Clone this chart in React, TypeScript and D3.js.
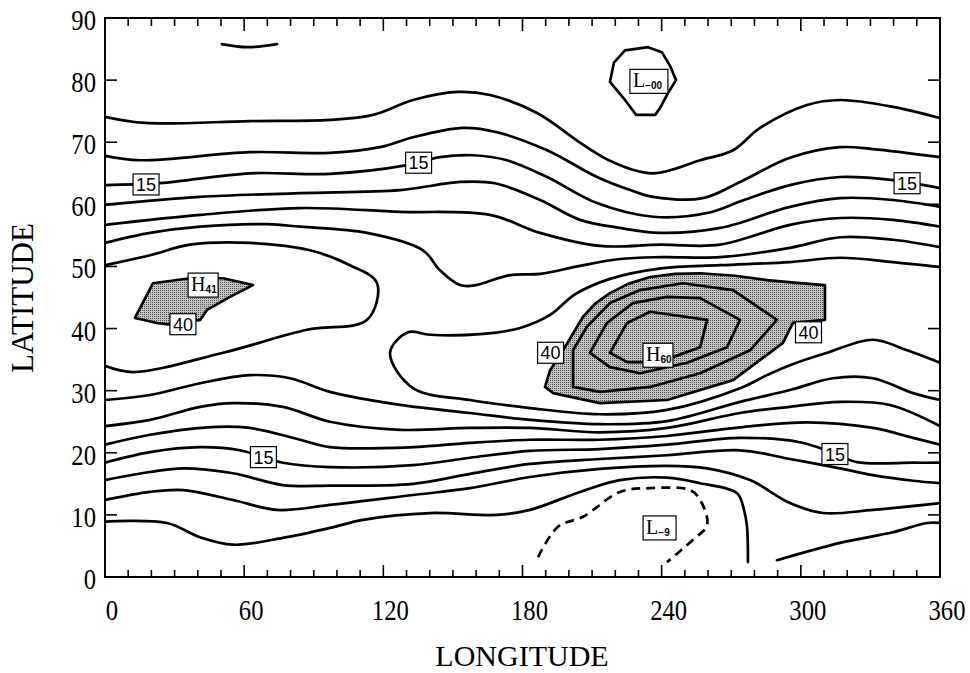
import React from 'react';
import * as d3 from 'd3';

type P = [number, number];

const lonTicks = [0, 60, 120, 180, 240, 300, 360];
const latTicks = [0, 10, 20, 30, 40, 50, 60, 70, 80, 90];
const lonMinor = d3.range(10, 360, 10);

// ---- contour lines (lon, lat) ----
const arcTop: P[] = [[50.4, 85.8], [61.2, 85.3], [74.2, 85.8]];
const c1: P[] = [[0, 74.1], [17.2, 73.1], [62.5, 73.4], [97, 73.6], [115.6, 74.4], [132.8, 76.8], [151.8, 78.1], [166, 77.6], [186.3, 74.7], [206.1, 69.6], [219, 66.8], [236.3, 65], [256.6, 67.1], [270.8, 68.7], [282.4, 72.3], [302.7, 76], [316.9, 76.8], [339.7, 75.7], [360, 73.9]];
const c2: P[] = [[0, 67.8], [15, 67.1], [62.5, 68.4], [97, 68.3], [118.6, 69.2], [132.8, 70.8], [154.4, 72.3], [169, 71.6], [190.6, 68.7], [212.1, 64.4], [226.4, 62.3], [236.3, 61.2], [257.8, 61.0], [273.8, 63.6], [295.3, 67.5], [316.9, 69.2], [331.1, 68.9], [360, 67.6]];
const c3: P[] = [[0, 63.1], [23.7, 63.4], [62.5, 65.0], [97, 64.9], [130.2, 66.3], [144.4, 67.6], [158.7, 67.9], [173.3, 67.1], [190.6, 64.4], [212.1, 60.2], [236.3, 58.0], [259.6, 58.6], [275.5, 60.7], [295.3, 63.1], [316.9, 64.4], [339.7, 63.9], [360, 62.6]];
const c4: P[] = [[0, 59.9], [41, 61.2], [84.1, 61.8], [127.2, 62.3], [153.1, 63.6], [168.1, 63.4], [187.6, 60.7], [204.8, 57.5], [222, 56.2], [239.3, 55.4], [265.2, 56.2], [295.3, 59.6], [316.9, 61.0], [339.7, 60.7], [360, 59.6]];
const c5: P[] = [[0, 56.7], [41, 58.3], [84.1, 59.4], [127.2, 58.8], [166, 58.3], [187.6, 55.4], [213.4, 53.3], [239.7, 53.5], [265.2, 53.5], [295.3, 56.7], [316.9, 57.8], [339.7, 57.5], [360, 56.4]];
const c6: P[] = [[0, 53.8], [19.4, 55.4], [41, 56.4], [69.8, 56.8], [84.1, 56.4], [113, 55.4], [137.1, 52.6], [144.4, 49.4], [153.1, 47.0], [158.7, 46.9], [174.6, 48.6], [187.6, 48.8], [204.8, 50.1], [222, 51.2], [239.7, 51.5], [265.2, 51.5], [295.3, 53.0], [316.9, 54.7], [339.7, 54.3], [360, 53.1]];
const loopWest: P[] = [[0, 50.2], [19.4, 51.8], [36.6, 53.5], [62.5, 53.8], [88.4, 52.6], [105.6, 50.2], [117.3, 47.3], [113, 41.4], [87.1, 39.8], [50.9, 36.1], [12.1, 33], [0, 34]];
const loopMid: P[] = [[360, 49.9], [339.7, 50.7], [316.9, 51.4], [295.3, 50.7], [265.2, 50.2], [239.7, 49.7], [217.7, 48.0], [202.6, 45.5], [191.9, 42.2], [178.9, 40.1], [161.7, 39.1], [140.1, 39.0], [130.6, 39.4], [122.9, 36.1], [132.8, 30.4], [157.4, 28.5], [183.2, 27.2], [213.4, 26.2], [242.3, 26.9], [273.8, 30.4], [285.4, 32.5], [295.3, 34.1], [311.3, 36.1], [331.1, 38.2], [345.8, 36.5], [360, 34.5]];
const b1: P[] = [[0, 28.5], [19.4, 29.3], [41, 31.2], [62.5, 32.5], [79.8, 32.0], [97, 29.8], [127.2, 27.7], [157.4, 26.4], [183.2, 25.3], [213.4, 24.6], [242.3, 25.1], [273.8, 28.2], [295.3, 30.1], [313.9, 32.0], [331.1, 32.0], [348.4, 29.6], [360, 28.5]];
const b2: P[] = [[0, 24.3], [19.4, 25.3], [41, 27.4], [55.2, 28.0], [76.7, 27.4], [97, 25.0], [127.2, 23.7], [157.4, 24.0], [183.2, 24.0], [213.4, 23.3], [242.3, 24.0], [273.8, 26.4], [295.3, 27.4], [316.9, 28.2], [338.4, 27.7], [360, 24.3]];
const b3: P[] = [[0, 21.3], [19.4, 22.9], [44, 24.1], [62.5, 24.0], [84.1, 22.1], [97, 20.9], [132.8, 20.9], [157.4, 21.6], [183.2, 22.1], [213.4, 22.1], [242.3, 22.7], [273.8, 24.1], [302.7, 24.9], [331.1, 24.0], [348.4, 22.4], [360, 21.3]];
const b4: P[] = [[0, 18.4], [19.4, 20.1], [41, 20.9], [58.2, 20.4], [68.1, 19.3], [76.7, 18.4], [97, 17.7], [132.8, 18.0], [157.4, 19.2], [183.2, 20.3], [213.4, 20.6], [242.3, 21.3], [273.8, 22.4], [299.6, 21.7], [314.7, 19.9], [324.2, 18.5], [348.4, 18.4], [360, 18.4]];
const b5: P[] = [[0, 15.6], [19.4, 16.9], [33.6, 17.5], [55.2, 16.7], [76.7, 14.8], [97, 14.7], [132.8, 15.0], [157.4, 16.6], [183.2, 18.2], [213.4, 19.0], [242.3, 19.6], [273.8, 20.4], [295.3, 19.0], [316.9, 17.5], [331.1, 16.4], [348.4, 15.5], [360, 15.1]];
const b6: P[] = [[0, 12.4], [19.4, 13.7], [33.6, 14.0], [55.2, 12.4], [74.2, 10.8], [97, 11.6], [132.8, 13.2], [157.4, 14.3], [183.2, 16.1], [213.4, 17.4], [242.3, 17.9], [259.6, 17.5], [278.1, 15.6], [295.3, 11.9], [309.6, 10.3], [331.1, 10.8], [360, 11.9]];
const b7: P[] = [[0, 8.9], [26.7, 8.7], [41, 6.4], [55.2, 5.2], [76.7, 6.3], [97, 7.9], [111.2, 9.2], [140.1, 10.3], [169, 10.0], [183.2, 10.8], [204.8, 13.7], [222, 15.6], [242.3, 16.0], [256.6, 15.1], [272.5, 13.5], [275.5, 10.8], [276.8, 8.1], [277.2, 2.4]];
const b7East: P[] = [[289.7, 2.7], [316.9, 5.5], [339.7, 7.2], [354.4, 8.7], [360, 8.7]];
const dashedLow: P[] = [[186.7, 3.2], [195.3, 8.1], [206.1, 9.7], [222, 13.7], [235, 14.3], [252.2, 14.0], [256.6, 12.4], [259.6, 8.4], [253.5, 6.0], [242.3, 2.4]];

// closed contours
const lowPole: P[] = [[224.2, 84.8], [234.1, 85.3], [240.1, 84.5], [243.6, 82.3], [246.2, 80], [242.7, 77.9], [239.3, 75.5], [237.2, 74.4], [229, 74.4], [224.2, 76.8], [217.7, 79.7], [219.4, 82.8]];
const highWest: P[] = [[12.9, 41.7], [20.7, 47.3], [36.6, 48.1], [50.9, 48.1], [63.8, 47.0], [53.9, 45.1], [44, 43], [41, 41.4], [29.3, 40.6], [22.4, 40.9]];
const highEast40: P[] = [[189.7, 30.6], [191.9, 33.3], [197.5, 36.5], [206.1, 41.9], [211.3, 44.0], [217.7, 45.7], [225.5, 47.2], [235, 48.3], [245.8, 48.8], [256.6, 48.9], [271.6, 48.5], [285.4, 47.8], [299.6, 47.3], [310.4, 47.0], [310.4, 41.4], [296.6, 40.9], [292.3, 37.7], [270.8, 31.7], [242.3, 28.5], [213.4, 28.0], [193.2, 29.6]];
const highEast45: P[] = [[201.8, 30.6], [201.8, 36.5], [207.8, 40.3], [217.7, 44.1], [230.7, 46.2], [249.2, 47.3], [270.8, 46.2], [289.7, 41.4], [278.1, 36.5], [256.6, 32.8], [235, 30.6], [213.4, 29.8]];
const highEast50: P[] = [[209.1, 36.1], [216.4, 40.9], [227.6, 44.1], [242.3, 45.1], [256.6, 44.9], [273.8, 41.4], [268.2, 37.0], [250.9, 34.5], [230.7, 32.8], [217.7, 33.8]];
const highEast55: P[] = [[217.7, 36.1], [225.1, 40.9], [235, 42.7], [259.6, 41.4], [256.6, 37.0], [244.9, 35.4], [233.7, 34.6], [225.1, 34.6]];

const openLines: P[][] = [arcTop, c1, c2, c3, c4, c5, c6, loopWest, loopMid, b1, b2, b3, b4, b5, b6, b7, b7East];

// value labels
const numLabels: { t: string; lon: number; lat: number }[] = [
  { t: '15', lon: 17.7, lat: 63.2 },
  { t: '15', lon: 135.2, lat: 66.7 },
  { t: '15', lon: 345.8, lat: 63.4 },
  { t: '15', lon: 68.3, lat: 19.3 },
  { t: '15', lon: 314.7, lat: 19.8 },
  { t: '40', lon: 33.6, lat: 40.7 },
  { t: '40', lon: 192.1, lat: 36.1 },
  { t: '40', lon: 303.3, lat: 39.4 },
];
const extremaLabels: { m: string; s: string; lon: number; lat: number; w: number }[] = [
  { m: 'H', s: '41', lon: 42.3, lat: 47.0, w: 30 },
  { m: 'H', s: '60', lon: 238.4, lat: 35.7, w: 30 },
  { m: 'L', s: '−9', lon: 239.1, lat: 7.9, w: 33 },
  { m: 'L', s: '−00', lon: 234.5, lat: 79.8, w: 38 },
];

const W = 970;
const H = 673;
const L = 105, R = 940, T = 18, B = 577;

export default function App() {
  const x = d3.scaleLinear().domain([0, 360]).range([L, R]);
  const y = d3.scaleLinear().domain([0, 90]).range([B, T]);
  const smooth = d3.line<P>().x(d => x(d[0])).y(d => y(d[1])).curve(d3.curveCatmullRom.alpha(0.5));
  const poly = d3.line<P>().x(d => x(d[0])).y(d => y(d[1])).curve(d3.curveLinearClosed);
  const serif = '"Liberation Serif", "DejaVu Serif", serif';
  const sans = '"Liberation Sans", Arial, sans-serif';
  const lw = 2.7;

  return (
    <svg width={W} height={H} style={{ position: 'absolute', left: 0, top: 0, background: '#fff' }}>
      <defs>
        <pattern id="stip" width="2" height="2" patternUnits="userSpaceOnUse">
          <rect width="2" height="2" fill="#c4c4c4" />
          <rect width="1" height="1" fill="#505050" />
        </pattern>
        <clipPath id="plot"><rect x={L} y={T} width={R - L} height={B - T} /></clipPath>
      </defs>
      <rect x={0} y={0} width={W} height={H} fill="#fff" />

      <g clipPath="url(#plot)">
        <path d={poly(highWest)!} fill="url(#stip)" stroke="#000" strokeWidth={lw} strokeLinejoin="round" />
        <path d={poly(highEast40)!} fill="url(#stip)" stroke="#000" strokeWidth={lw} strokeLinejoin="round" />
        {[highEast45, highEast50, highEast55, lowPole].map((c, i) => (
          <path key={'cl' + i} d={poly(c)!} fill="none" stroke="#000" strokeWidth={lw} strokeLinejoin="round" />
        ))}
        {openLines.map((c, i) => (
          <path key={'ol' + i} d={smooth(c)!} fill="none" stroke="#000" strokeWidth={lw} strokeLinejoin="round" strokeLinecap="round" />
        ))}
        <path d={smooth(dashedLow)!} fill="none" stroke="#000" strokeWidth={lw} strokeDasharray="9 6" />
      </g>

      {numLabels.map((lb, i) => (
        <g key={'nl' + i} transform={`translate(${x(lb.lon)},${y(lb.lat)})`}>
          <rect x={-13} y={-10.5} width={26} height={21} fill="#fff" stroke="#000" strokeWidth={1.2} />
          <text x={0} y={6.5} textAnchor="middle" fontFamily={sans} fontSize={18}>{lb.t}</text>
        </g>
      ))}
      {extremaLabels.map((lb, i) => (
        <g key={'el' + i} transform={`translate(${x(lb.lon)},${y(lb.lat)})`}>
          <rect x={-lb.w / 2} y={-12} width={lb.w} height={24} fill="#fff" stroke="#000" strokeWidth={1.2} />
          <text x={-lb.w / 2 + 3} y={6} fontFamily={serif} fontSize={20}>
            {lb.m}
            <tspan fontFamily={sans} fontWeight="bold" fontSize={10} dy={2}>{lb.s}</tspan>
          </text>
        </g>
      ))}

      {/* frame */}
      <rect x={L} y={T} width={R - L} height={B - T} fill="none" stroke="#000" strokeWidth={2} />

      {/* x ticks bottom and top */}
      {lonMinor.map(v => {
        const major = v % 60 === 0;
        const len = major ? 12 : 7;
        return (
          <g key={'xt' + v}>
            <line x1={x(v)} x2={x(v)} y1={B} y2={B - len} stroke="#000" strokeWidth={1.6} />
            <line x1={x(v)} x2={x(v)} y1={T} y2={T + (major ? 13 : 8)} stroke="#000" strokeWidth={1.6} />
          </g>
        );
      })}
      {latTicks.slice(1, -1).map(v => (
        <g key={'yt' + v}>
          <line x1={L} x2={L + 12} y1={y(v)} y2={y(v)} stroke="#000" strokeWidth={1.6} />
          <line x1={R} x2={R - 12} y1={y(v)} y2={y(v)} stroke="#000" strokeWidth={1.6} />
        </g>
      ))}

      {lonTicks.map(v => (
        <text key={'xl' + v} transform={`translate(${x(v) + 7},620) scale(0.85,1)`} textAnchor="middle" fontFamily={serif} fontSize={29}>{v}</text>
      ))}
      {latTicks.map(v => (
        <text key={'yl' + v} transform={`translate(96,${y(v) + 12}) scale(0.85,1)`} textAnchor="end" fontFamily={serif} fontSize={29}>{v}</text>
      ))}

      <text x={522} y={666} textAnchor="middle" fontFamily={serif} fontSize={30}>LONGITUDE</text>
      <text transform="translate(33,298) rotate(-90)" textAnchor="middle" fontFamily={serif} fontSize={31}>LATITUDE</text>
    </svg>
  );
}
